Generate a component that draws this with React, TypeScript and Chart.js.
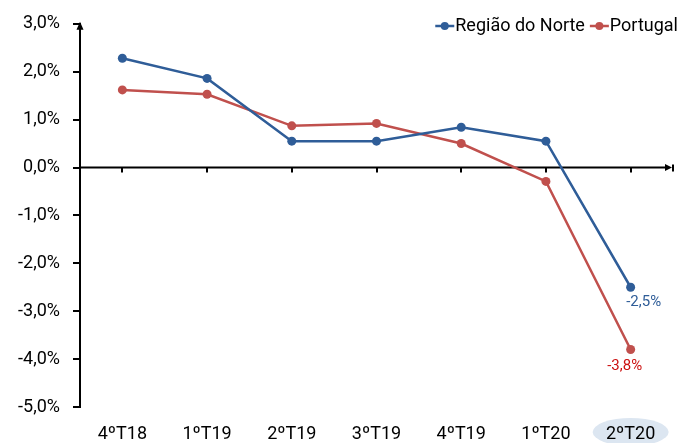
import { useEffect, useRef } from 'react';
import { Chart, registerables } from 'chart.js';

Chart.register(...registerables);

const categories = ['4ºT18', '1ºT19', '2ºT19', '3ºT19', '4ºT19', '1ºT20', '2ºT20'];
const norteValues = [2.28, 1.86, 0.55, 0.55, 0.84, 0.55, -2.5];
const portugalValues = [1.62, 1.53, 0.87, 0.92, 0.5, -0.29, -3.8];
const seriesNames = ['Região do Norte', 'Portugal'];
const seriesColors = ['#2f5d98', '#c0504d'];
const labelColors = ['#2f5d98', '#cc1111'];
const yMin = -5;
const yMax = 3;
const yStep = 1;

const FONT = 'Roboto';

const fmt = (v: number) => v.toFixed(1).replace('.', ',') + '%';

const decorPlugin = {
  id: 'decor',
  beforeDraw(chart: any) {
    const { ctx, scales } = chart;
    const x = scales.x.getPixelForValue(categories.length - 1);
    const y = chart.chartArea.bottom + 25;
    ctx.save();
    ctx.fillStyle = '#dce6f1';
    ctx.beginPath();
    ctx.ellipse(x, y, 38, 14, 0, 0, Math.PI * 2);
    ctx.fill();
    ctx.restore();
  },
  beforeDatasetsDraw(chart: any) {
    const { ctx, scales, chartArea } = chart;
    const y0 = scales.y.getPixelForValue(0);
    ctx.save();
    ctx.strokeStyle = '#000';
    ctx.fillStyle = '#000';
    ctx.lineWidth = 2;
    ctx.beginPath();
    ctx.moveTo(chartArea.left, y0);
    ctx.lineTo(chartArea.right - 4, y0);
    ctx.stroke();
    for (let i = 0; i < categories.length; i++) {
      const x = Math.round(scales.x.getPixelForValue(i));
      ctx.beginPath();
      ctx.moveTo(x, y0);
      ctx.lineTo(x, y0 + 5);
      ctx.stroke();
    }
    const xe = chartArea.right - 1;
    ctx.beginPath();
    ctx.moveTo(xe, y0);
    ctx.lineTo(xe - 7, y0 - 3.5);
    ctx.lineTo(xe - 7, y0 + 3.5);
    ctx.closePath();
    ctx.fill();
    ctx.beginPath();
    ctx.moveTo(xe + 1, y0 - 3);
    ctx.lineTo(xe + 1, y0 + 4);
    ctx.stroke();
    const xa = chartArea.left;
    const ya = chartArea.top;
    ctx.beginPath();
    ctx.moveTo(xa, ya - 2);
    ctx.lineTo(xa - 3.5, ya + 6);
    ctx.lineTo(xa + 3.5, ya + 6);
    ctx.closePath();
    ctx.fill();
    ctx.restore();
  },
  afterDatasetsDraw(chart: any) {
    const { ctx } = chart;
    ctx.save();
    ctx.font = `15px ${FONT}`;
    ctx.textAlign = 'center';
    ctx.textBaseline = 'middle';
    const offsets = [
      [13, 15],
      [-6, 17],
    ];
    chart.data.datasets.forEach((ds: any, i: number) => {
      const meta = chart.getDatasetMeta(i);
      const last = meta.data[meta.data.length - 1];
      const v = ds.data[ds.data.length - 1];
      ctx.fillStyle = labelColors[i];
      ctx.fillText(fmt(v), last.x + offsets[i][0], last.y + offsets[i][1]);
    });
    ctx.font = `18px ${FONT}`;
    ctx.textAlign = 'left';
    const ly = 26;
    let right = 678;
    for (let i = seriesNames.length - 1; i >= 0; i--) {
      const w = ctx.measureText(seriesNames[i]).width;
      const tx = right - w;
      const mx1 = tx - 20;
      const mx2 = tx - 1;
      ctx.strokeStyle = seriesColors[i];
      ctx.fillStyle = seriesColors[i];
      ctx.lineWidth = 2.5;
      ctx.beginPath();
      ctx.moveTo(mx1, ly);
      ctx.lineTo(mx2, ly);
      ctx.stroke();
      ctx.beginPath();
      ctx.arc((mx1 + mx2) / 2, ly, 4, 0, Math.PI * 2);
      ctx.fill();
      ctx.fillStyle = '#000';
      ctx.fillText(seriesNames[i], tx, ly);
      right = mx1 - 5;
    }
    ctx.restore();
  },
};

export default function App() {
  const canvasRef = useRef<HTMLCanvasElement | null>(null);

  useEffect(() => {
    const canvas = canvasRef.current;
    if (!canvas) return;
    const chart = new Chart(canvas, {
      type: 'line',
      data: {
        labels: categories,
        datasets: [
          {
            label: seriesNames[0],
            data: norteValues,
            borderColor: seriesColors[0],
            backgroundColor: seriesColors[0],
            borderWidth: 2.5,
            pointRadius: 4.5,
            pointHoverRadius: 4.5,
            pointBorderWidth: 0,
            tension: 0,
          },
          {
            label: seriesNames[1],
            data: portugalValues,
            borderColor: seriesColors[1],
            backgroundColor: seriesColors[1],
            borderWidth: 2.5,
            pointRadius: 4.5,
            pointHoverRadius: 4.5,
            pointBorderWidth: 0,
            tension: 0,
          },
        ],
      },
      options: {
        animation: false,
        responsive: true,
        maintainAspectRatio: false,
        layout: { padding: { top: 23, right: 9, bottom: 0, left: 0 } },
        plugins: {
          legend: { display: false },
          tooltip: { enabled: false },
        },
        scales: {
          x: {
            type: 'category',
            offset: true,
            grid: { display: false },
            border: { display: false },
            ticks: {
              color: '#000',
              font: { family: FONT, size: 18 },
              padding: 9,
              maxRotation: 0,
              autoSkip: false,
            },
            afterFit: (scale: any) => {
              scale.height = 36;
            },
          },
          y: {
            min: yMin,
            max: yMax,
            grid: {
              drawOnChartArea: false,
              drawTicks: true,
              tickLength: 7,
              color: '#000',
              lineWidth: 2,
            },
            border: { display: true, color: '#000', width: 2 },
            ticks: {
              stepSize: yStep,
              color: '#000',
              font: { family: FONT, size: 18 },
              padding: 13,
              callback: (v: any) => fmt(Number(v)),
            },
            afterFit: (scale: any) => {
              scale.width = 80;
            },
          },
        },
      },
      plugins: [decorPlugin],
    });
    return () => chart.destroy();
  }, []);

  return (
    <div style={{ position: 'absolute', left: 0, top: 0, width: 682, height: 443, background: '#fff' }}>
      <canvas ref={canvasRef} />
    </div>
  );
}
